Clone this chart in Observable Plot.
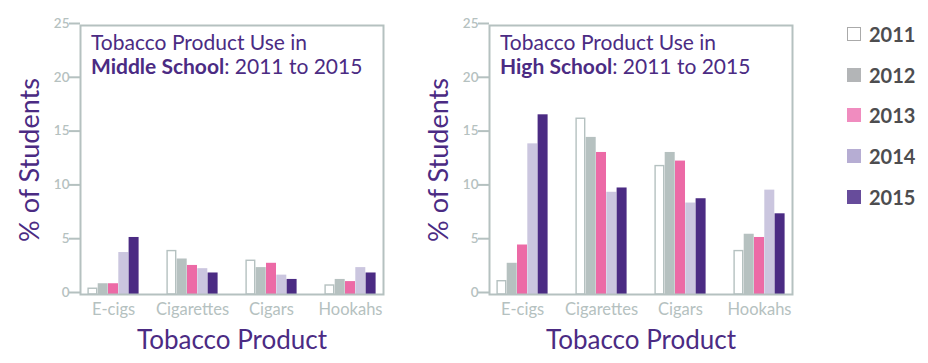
<!DOCTYPE html>
<html><head><meta charset="utf-8">
<script src="https://cdn.jsdelivr.net/npm/d3@7"></script>
<script src="https://cdn.jsdelivr.net/npm/@observablehq/plot@0.6"></script>
<style>
body{margin:0;background:#fff;}
#wrap{position:relative;width:928px;height:363px;font-family:Lato,"Open Sans",sans-serif;overflow:hidden;background:#fff}
.panel{position:absolute;top:0}
.title{position:absolute;top:30px;color:#4b2b83;font-size:21px;line-height:24px;white-space:nowrap}
.title b{font-weight:700}
.li{position:absolute;left:847px;height:20px;display:flex;align-items:center;white-space:nowrap}
.sw{width:14px;height:14px;box-sizing:border-box;margin-right:8px}
.lt{font-weight:700;font-size:20px;color:#4d4d4f}
</style>
</head><body>
<div id="wrap"></div>
<script>
const products = ["E-cigs", "Cigarettes", "Cigars", "Hookahs"];
const years = ["2011", "2012", "2013", "2014", "2015"];
const yTicks = [0, 5, 10, 15, 20, 25];

// Middle school, values per year in product order
const ms2011 = [0.6, 4.1, 3.2, 0.9];
const ms2012 = [1.0, 3.3, 2.5, 1.4];
const ms2013 = [1.0, 2.7, 2.9, 1.2];
const ms2014 = [3.9, 2.4, 1.8, 2.5];
const ms2015 = [5.3, 2.0, 1.4, 2.0];

// High school
const hs2011 = [1.3, 16.4, 12.0, 4.1];
const hs2012 = [2.9, 14.6, 13.2, 5.6];
const hs2013 = [4.6, 13.2, 12.4, 5.3];
const hs2014 = [14.0, 9.5, 8.5, 9.7];
const hs2015 = [16.7, 9.9, 8.9, 7.5];

const barColors = ["#ffffff", "#b6c1c0", "#ec6aa6", "#cbc6df", "#4b2b83"];
const legendColors = ["#ffffff", "#b3b5b7", "#f08cbf", "#b6add3", "#674c9b"];
const gray = "#b5c1c0";
const purple = "#4b2b83";

function panel(series) {
  const rows = years.flatMap((yr, i) => products.map((p, j) => ({year: yr, product: p, value: series[i][j]})));
  const bw = 10.3;
  const marks = years.map((yr, i) => Plot.barY(rows.filter(d => d.year === yr), {
    x: "product", y: "value",
    fill: barColors[i],
    stroke: i === 0 ? gray : "none",
    strokeWidth: 1.4,
    insetLeft: i === 0 ? 0.7 : 0,
    insetRight: i === 0 ? 0.7 : 0,
    insetTop: i === 0 ? 0.7 : 0,
    dx: (i - 2) * bw
  }));
  return Plot.plot({
    width: 400, height: 363,
    marginLeft: 80, marginRight: 17, marginTop: 25, marginBottom: 69,
    style: {fontFamily: "Lato, 'Open Sans', sans-serif", background: "transparent"},
    x: {type: "band", domain: products, range: [73.35, 390.65], paddingInner: 0.87, paddingOuter: 0.435, align: 0.5, label: null},
    y: {domain: [0, 25], label: null},
    marks: [
      ...marks,
      Plot.frame({stroke: gray, strokeWidth: 2}),
      Plot.axisY({ticks: yTicks, tickSize: 11, tickPadding: 0, color: gray, fontSize: 13.5, fontWeight: 600, dy: -2, label: null, strokeWidth: 2}),
      Plot.axisX({tickSize: 0, tickPadding: 9, color: gray, fontSize: 16.5, label: null}),
      Plot.text(["% of Students"], {frameAnchor: "left", textAnchor: "middle", lineAnchor: "middle", rotate: -90, dx: -50, fontSize: 27, fill: purple}),
      Plot.text(["Tobacco Product"], {frameAnchor: "bottom", textAnchor: "middle", lineAnchor: "middle", dy: 46, fontSize: 26, fill: purple})
    ]
  });
}

const wrap = document.getElementById("wrap");
const left = panel([ms2011, ms2012, ms2013, ms2014, ms2015]);
left.classList.add("panel"); left.style.left = "0px";
wrap.appendChild(left);
const right = panel([hs2011, hs2012, hs2013, hs2014, hs2015]);
right.classList.add("panel"); right.style.left = "409px";
wrap.appendChild(right);

const t1 = document.createElement("div");
t1.className = "title"; t1.style.left = "91px";
t1.innerHTML = "Tobacco Product Use in<br><b>Middle School</b>: 2011 to 2015";
wrap.appendChild(t1);
const t2 = document.createElement("div");
t2.className = "title"; t2.style.left = "500px";
t2.innerHTML = "Tobacco Product Use in<br><b>High School</b>: 2011 to 2015";
wrap.appendChild(t2);

const rowCenters = [34, 75, 115, 156, 197];
years.forEach((yr, i) => {
  const li = document.createElement("div");
  li.className = "li";
  li.style.top = (rowCenters[i] - 10) + "px";
  const sw = document.createElement("div");
  sw.className = "sw";
  sw.style.background = legendColors[i];
  if (i === 0) sw.style.border = "1.5px solid #aaaaaa";
  const lt = document.createElement("span");
  lt.className = "lt";
  lt.textContent = yr;
  li.appendChild(sw); li.appendChild(lt);
  wrap.appendChild(li);
});
</script>
</body></html>
